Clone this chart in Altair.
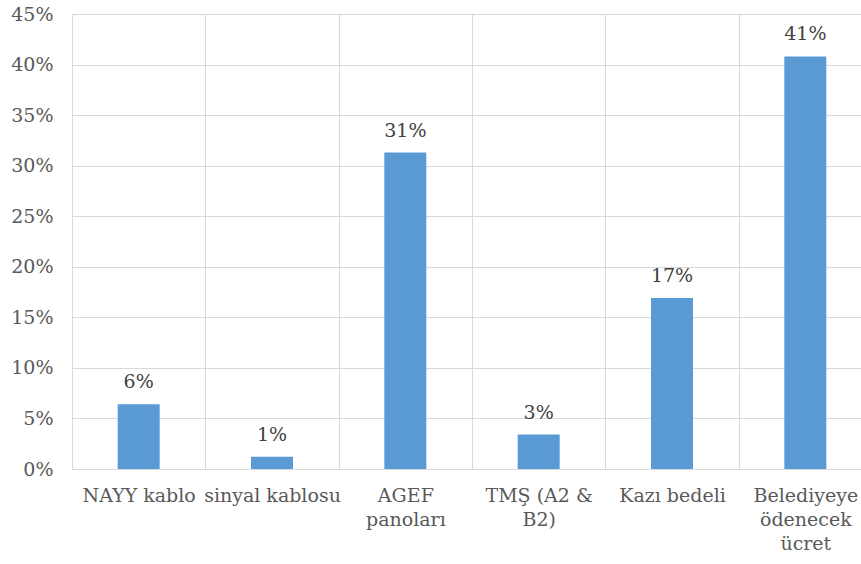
import altair as alt
import pandas as pd

# Cost items (line breaks mark where the axis labels wrap)
categories = [
    "NAYY kablo",
    "sinyal kablosu",
    "AGEF\npanoları",
    "TMŞ (A2 &\nB2)",
    "Kazı bedeli",
    "Belediyeye\nödenecek\nücret",
]
# Share of total cost
shares = [0.064, 0.012, 0.313, 0.034, 0.169, 0.408]
y_ticks = [0.0, 0.05, 0.10, 0.15, 0.20, 0.25, 0.30, 0.35, 0.40, 0.45]

df = pd.DataFrame({"item": categories, "share": shares})

FONT = "DejaVu Serif"
BAR_COLOR = "#5b9bd5"
GRID = "#d9d9d9"

x_enc = alt.X(
    "item:N",
    sort=categories,
    title=None,
    scale=alt.Scale(range=[0, 800], paddingInner=0, paddingOuter=0),
    axis=alt.Axis(
        labelAngle=0,
        labelFont=FONT,
        labelFontSize=19,
        labelColor="#595959",
        labelPadding=17,
        labelLineHeight=24,
        labelBaseline="top",
        labelOverlap=False,
        labelExpr="split(datum.label, '\\n')",
        ticks=False,
        domain=False,
        grid=True,
        gridColor=GRID,
        gridWidth=1,
        tickBand="extent",
    ),
)

y_enc = alt.Y(
    "share:Q",
    title=None,
    scale=alt.Scale(domain=[0, 0.45], nice=False),
    axis=alt.Axis(
        values=y_ticks,
        format=".0%",
        labelFont=FONT,
        labelFontSize=19,
        labelColor="#595959",
        labelPadding=19,
        ticks=False,
        domain=False,
        grid=True,
        gridColor=GRID,
        gridWidth=1,
    ),
)

bars = alt.Chart(df).mark_bar(color=BAR_COLOR, size=42).encode(x=x_enc, y=y_enc)

labels = alt.Chart(df).mark_text(
    font=FONT,
    fontSize=19,
    color="#404040",
    align="center",
    baseline="alphabetic",
    dy=-16,
).encode(
    x=alt.X("item:N", sort=categories),
    y=alt.Y("share:Q"),
    text=alt.Text("share:Q", format=".0%"),
)

chart = (
    alt.layer(bars, labels)
    .properties(
        width=789,
        height=455,
        autosize=alt.AutoSizeParams(type="none"),
        padding={"left": 72, "top": 14, "right": 0, "bottom": 95},
        background="white",
    )
    .configure_view(stroke=None)
)

chart.save("out.html", embed_options={"renderer": "svg", "actions": False})
